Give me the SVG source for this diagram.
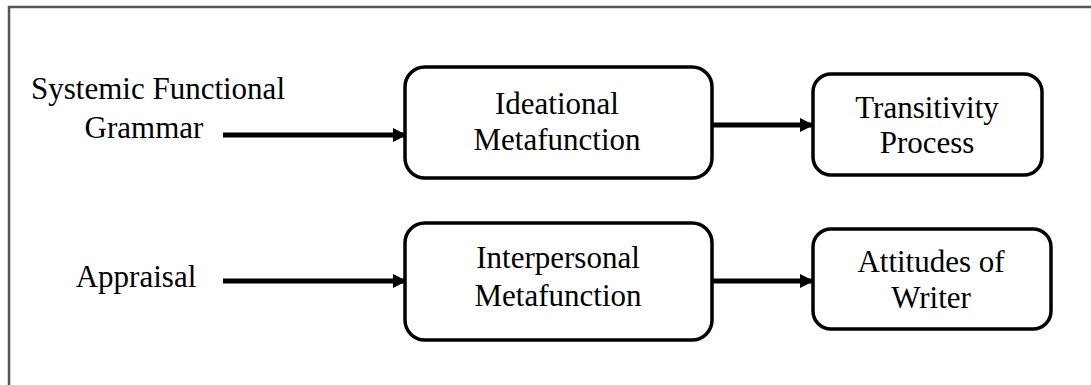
<svg xmlns="http://www.w3.org/2000/svg" width="1091" height="385" viewBox="0 0 1091 385">
<style>
.frame{stroke:#555;stroke-width:2.5;fill:none}
.box{fill:#fff;stroke:#000;stroke-width:3.5}
.t{font-family:"Liberation Serif","Times New Roman",serif;font-size:31px;fill:#000;text-anchor:middle}
.c{stroke:#000;stroke-width:5;fill:none}
</style>
<defs>
<marker id="ah" markerUnits="userSpaceOnUse" markerWidth="14" markerHeight="14" refX="13" refY="7" orient="auto">
<path d="M0,0 L14,7 L0,14 Z" fill="#000"/>
</marker>
</defs>
<rect width="1091" height="385" fill="#fff"/>
<path class="frame" d="M9,385 V7 H1091"/>
<g id="connectors">
<line class="c" x1="223" y1="135" x2="406" y2="135" marker-end="url(#ah)"/>
<line class="c" x1="712" y1="125" x2="813" y2="125" marker-end="url(#ah)"/>
<line class="c" x1="223" y1="281" x2="406" y2="281" marker-end="url(#ah)"/>
<line class="c" x1="712" y1="281" x2="813" y2="281" marker-end="url(#ah)"/>
</g>
<g id="sfg">
<text class="t" x="158" y="99">Systemic Functional</text>
<text class="t" x="144" y="138">Grammar</text>
</g>
<g id="appraisal">
<text class="t" x="136" y="287">Appraisal</text>
</g>
<g id="ideational">
<rect class="box" x="405" y="67" width="307" height="111" rx="20"/>
<text class="t" x="557" y="114">Ideational</text>
<text class="t" x="557" y="150">Metafunction</text>
</g>
<g id="transitivity">
<rect class="box" x="813" y="74" width="229" height="101" rx="18"/>
<text class="t" x="927" y="118">Transitivity</text>
<text class="t" x="927" y="153">Process</text>
</g>
<g id="interpersonal">
<rect class="box" x="405" y="223" width="307" height="117" rx="20"/>
<text class="t" x="558" y="268">Interpersonal</text>
<text class="t" x="558" y="306">Metafunction</text>
</g>
<g id="attitudes">
<rect class="box" x="813" y="229" width="238" height="100" rx="18"/>
<text class="t" x="931" y="272">Attitudes of</text>
<text class="t" x="931" y="308">Writer</text>
</g>
</svg>
